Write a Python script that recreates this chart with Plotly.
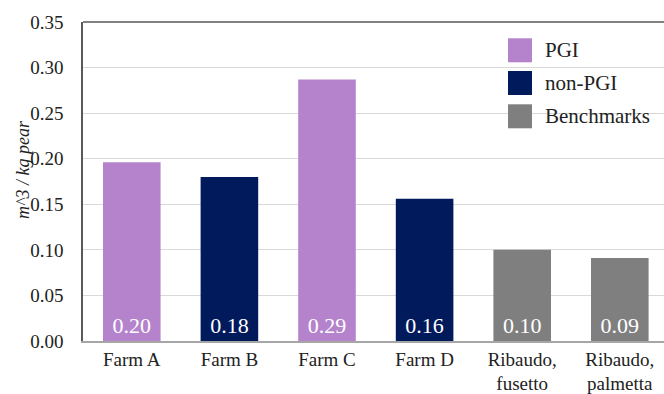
import plotly.graph_objects as go

# Water footprint per kg of pears
categories = ["Farm A", "Farm B", "Farm C", "Farm D", "Ribaudo,<br>fusetto", "Ribaudo,<br>palmetta"]
values = [0.196, 0.180, 0.287, 0.156, 0.100, 0.091]
groups = ["PGI", "non-PGI", "PGI", "non-PGI", "Benchmarks", "Benchmarks"]
legend_items = ["PGI", "non-PGI", "Benchmarks"]
y_ticks = [0.00, 0.05, 0.10, 0.15, 0.20, 0.25, 0.30, 0.35]

colors = {"PGI": "#B483CC", "non-PGI": "#001A5C", "Benchmarks": "#7F7F7F"}
FONT = "Liberation Serif"

W, H = 664, 394
L, R, T, B = 83, 0, 22, 53
pw, ph = W - L - R, H - T - B
step = 97.6  # category spacing in px
x_hi = -0.5 + pw / step

fig = go.Figure()
fig.add_trace(go.Bar(
    x=list(range(len(categories))),
    y=values,
    marker=dict(color=[colors[g] for g in groups], line=dict(width=0)),
    text=[f"{v:.2f}" for v in values],
    textposition="inside",
    insidetextanchor="start",
    textangle=0,
    textfont=dict(family=FONT, size=22, color="white"),
    width=0.59,
    showlegend=False,
    hoverinfo="skip",
))

fig.update_layout(
    width=W, height=H,
    margin=dict(l=L, r=R, t=T, b=B),
    paper_bgcolor="white", plot_bgcolor="white",
    font=dict(family=FONT, size=19, color="#222222"),
)
fig.update_xaxes(
    range=[-0.5, x_hi], automargin=False,
    tickmode="array", tickvals=list(range(len(categories))), ticktext=categories,
    tickfont=dict(family=FONT, size=19, color="#222222"),
    showgrid=False, zeroline=False,
    showline=True, linecolor="#A6A6A6", linewidth=1.5,
    ticks="", ticklabelstandoff=0,
)
fig.update_yaxes(
    range=[0, 0.35], automargin=False,
    tickmode="array", tickvals=y_ticks, ticktext=[f"{t:.2f}" for t in y_ticks],
    tickfont=dict(family=FONT, size=19, color="#222222"),
    showgrid=True, gridcolor="#D9D9D9", gridwidth=1,
    zeroline=False,
    showline=True, linecolor="#595959", linewidth=1.5,
    ticks="", ticklabelstandoff=14,
)

# top frame line
fig.add_shape(type="line", xref="paper", yref="paper", x0=0, x1=1, y0=1, y1=1,
              line=dict(color="#595959", width=1.5))

# axis title
fig.add_annotation(
    text="<i>m^3 / kg pear</i>", xref="paper", yref="paper",
    x=(23 - L) / pw, y=(H - B - 170) / ph, textangle=-90,
    showarrow=False, font=dict(family=FONT, size=18, color="#222222"),
    xanchor="center", yanchor="middle",
)

# legend: square swatches with labels
sq_x0, sq_x1 = 508, 532
sq_tops = [38.3, 71.0, 104.3]
for name, top in zip(legend_items, sq_tops):
    fig.add_shape(
        type="rect", xref="paper", yref="paper",
        x0=(sq_x0 - L) / pw, x1=(sq_x1 - L) / pw,
        y0=(H - B - (top + 24)) / ph, y1=(H - B - top) / ph,
        fillcolor=colors[name], line=dict(width=0), layer="above",
    )
    fig.add_annotation(
        text=name, xref="paper", yref="paper",
        x=(543 - L) / pw, y=(H - B - (top + 12)) / ph,
        showarrow=False, xanchor="left", yanchor="middle",
        font=dict(family=FONT, size=21, color="#222222"),
    )

fig.write_html("out.html")
